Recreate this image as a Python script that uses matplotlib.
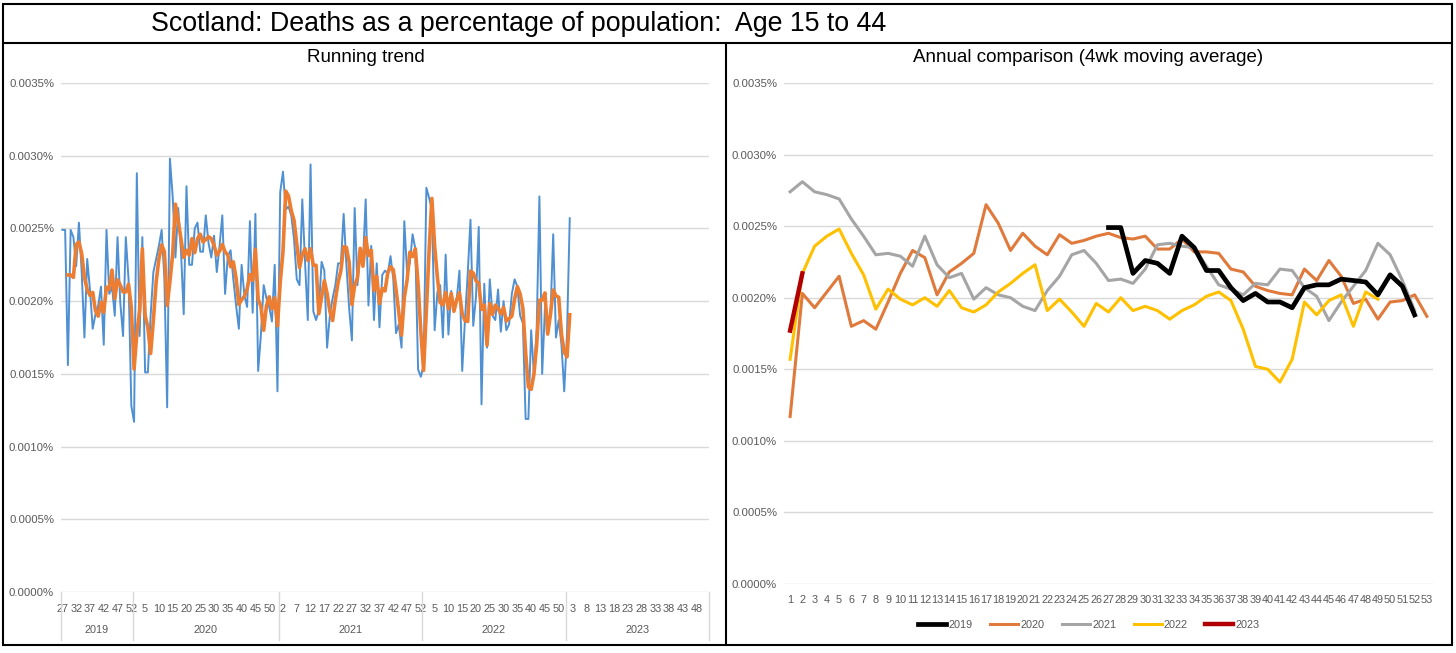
import numpy as np
import pandas as pd
import matplotlib
matplotlib.use("Agg")
import matplotlib.pyplot as plt
import matplotlib.transforms as mtransforms
from matplotlib.lines import Line2D
from matplotlib.patches import Rectangle
from matplotlib.ticker import FuncFormatter, MultipleLocator

plt.rcParams["font.family"] = ["Liberation Sans Narrow", "Liberation Sans", "DejaVu Sans"]

# category axis of the running trend: year groups and their week numbers
years = ["2019", "2020", "2021", "2022", "2023"]
first_week = [27, 1, 1, 1, 1]
last_week = [52, 53, 52, 52, 52]

# weekly deaths as % of population (age 15-44)
weekly_2019 = [0.00249, 0.00249, 0.00156, 0.00249, 0.00244, 0.00224, 0.00254, 0.00220, 0.00175, 0.00229,
               0.00208, 0.00181, 0.00191, 0.00197, 0.00210, 0.00170, 0.00249, 0.00205, 0.00210, 0.00190,
               0.00244, 0.00199, 0.00176, 0.00244, 0.00215, 0.00128]
weekly_2020 = [0.00117, 0.00288, 0.00176, 0.00244, 0.00151, 0.00151, 0.00190, 0.00220, 0.00229, 0.00238,
               0.00249, 0.00215, 0.00127, 0.00298, 0.00272, 0.00230, 0.00264, 0.00235, 0.00191, 0.00279,
               0.00225, 0.00225, 0.00250, 0.00254, 0.00234, 0.00234, 0.00259, 0.00240, 0.00230, 0.00245,
               0.00220, 0.00238, 0.00259, 0.00205, 0.00231, 0.00235, 0.00215, 0.00197, 0.00181, 0.00225,
               0.00204, 0.00196, 0.00255, 0.00192, 0.00260, 0.00152, 0.00177, 0.00211, 0.00202, 0.00196,
               0.00186, 0.00225, 0.00138]
weekly_2021 = [0.00275, 0.00289, 0.00263, 0.00265, 0.00259, 0.00243, 0.00215, 0.00211, 0.00270, 0.00227,
               0.00187, 0.00294, 0.00193, 0.00187, 0.00194, 0.00227, 0.00221, 0.00168, 0.00190, 0.00202,
               0.00211, 0.00226, 0.00226, 0.00260, 0.00225, 0.00195, 0.00173, 0.00264, 0.00211, 0.00234,
               0.00227, 0.00270, 0.00197, 0.00238, 0.00187, 0.00226, 0.00182, 0.00218, 0.00221, 0.00219,
               0.00231, 0.00215, 0.00178, 0.00184, 0.00168, 0.00255, 0.00220, 0.00226, 0.00246, 0.00236,
               0.00153, 0.00148]
weekly_2022 = [0.00156, 0.00278, 0.00271, 0.00263, 0.00180, 0.00206, 0.00211, 0.00175, 0.00232, 0.00177,
               0.00207, 0.00195, 0.00201, 0.00221, 0.00152, 0.00187, 0.00219, 0.00256, 0.00183, 0.00203,
               0.00251, 0.00129, 0.00212, 0.00168, 0.00215, 0.00190, 0.00187, 0.00208, 0.00179, 0.00200,
               0.00180, 0.00184, 0.00205, 0.00215, 0.00210, 0.00190, 0.00185, 0.00119, 0.00119, 0.00180,
               0.00150, 0.00180, 0.00272, 0.00150, 0.00195, 0.00187, 0.00190, 0.00246, 0.00175, 0.00187,
               0.00170, 0.00138]
weekly_2023 = [0.00177, 0.00257]

# annual comparison: 4 week moving average by week of year
ma_2019 = [0.00249, 0.00249, 0.00217, 0.00226, 0.00224, 0.00217, 0.00243, 0.00235, 0.00219, 0.00219,
           0.00207, 0.00198, 0.00203, 0.00197, 0.00197, 0.00193, 0.00207, 0.00209, 0.00209, 0.00213,
           0.00212, 0.00211, 0.00202, 0.00216, 0.00208, 0.00188]
ma_2020 = [0.00117, 0.00203, 0.00193, 0.00204, 0.00215, 0.00180, 0.00184, 0.00178, 0.00197, 0.00217,
           0.00233, 0.00228, 0.00202, 0.00218, 0.00224, 0.00231, 0.00265, 0.00252, 0.00233, 0.00245,
           0.00236, 0.00230, 0.00244, 0.00238, 0.00240, 0.00243, 0.00245, 0.00242, 0.00241, 0.00243,
           0.00234, 0.00234, 0.00241, 0.00232, 0.00232, 0.00231, 0.00220, 0.00218, 0.00208, 0.00205,
           0.00203, 0.00202, 0.00220, 0.00212, 0.00226, 0.00215, 0.00196, 0.00199, 0.00185, 0.00197,
           0.00198, 0.00202, 0.00187]
ma_2021 = [0.00274, 0.00281, 0.00274, 0.00272, 0.00269, 0.00255, 0.00243, 0.00230, 0.00231, 0.00229,
           0.00222, 0.00243, 0.00223, 0.00214, 0.00217, 0.00199, 0.00207, 0.00202, 0.00200, 0.00194,
           0.00191, 0.00205, 0.00215, 0.00230, 0.00233, 0.00224, 0.00212, 0.00213, 0.00210, 0.00220,
           0.00237, 0.00238, 0.00236, 0.00235, 0.00222, 0.00209, 0.00206, 0.00202, 0.00210, 0.00209,
           0.00220, 0.00219, 0.00207, 0.00201, 0.00184, 0.00197, 0.00208, 0.00219, 0.00238, 0.00230,
           0.00212, 0.00191]
ma_2022 = [0.00157, 0.00217, 0.00236, 0.00243, 0.00248, 0.00231, 0.00216, 0.00192, 0.00206, 0.00199,
           0.00195, 0.00200, 0.00194, 0.00205, 0.00193, 0.00190, 0.00195, 0.00204, 0.00210, 0.00217,
           0.00223, 0.00191, 0.00199, 0.00190, 0.00180, 0.00196, 0.00190, 0.00200, 0.00191, 0.00194,
           0.00191, 0.00185, 0.00191, 0.00195, 0.00201, 0.00204, 0.00198, 0.00178, 0.00152, 0.00150,
           0.00141, 0.00157, 0.00197, 0.00188, 0.00198, 0.00202, 0.00180, 0.00204, 0.00199]
ma_2023 = [0.00177, 0.00217]

W, H = 1456, 653


def fx(px):
    return px / W


def fy(py):
    return 1 - py / H


def pct(v, pos):
    return f"{v:.4f}%"


def style_axes(ax):
    ax.set_ylim(0, 0.0035)
    ax.yaxis.set_major_locator(MultipleLocator(0.0005))
    ax.yaxis.set_major_formatter(FuncFormatter(pct))
    ax.grid(axis="y", color="#D9D9D9", lw=1)
    ax.set_axisbelow(True)
    for s in ax.spines.values():
        s.set_visible(False)
    ax.tick_params(axis="y", length=0, pad=5, labelsize=8.2, labelcolor="#595959")


fig = plt.figure(figsize=(W / 100, H / 100), dpi=100)

# frame lines like the spreadsheet layout
fig.add_artist(Rectangle((fx(3), fy(645)), fx(1452) - fx(3), fy(4) - fy(645),
                         transform=fig.transFigure, fill=False, ec="black", lw=1.5))
fig.add_artist(Line2D([fx(3), fx(1452)], [fy(43), fy(43)], transform=fig.transFigure, color="black", lw=1.5))
fig.add_artist(Line2D([fx(726), fx(726)], [fy(43), fy(645)], transform=fig.transFigure, color="black", lw=1.5))

fig.text(fx(519), fy(24), "Scotland: Deaths as a percentage of population:  Age 15 to 44",
         ha="center", va="center", fontsize=19.3)
fig.text(fx(366), fy(57), "Running trend", ha="center", va="center", fontsize=13.5)
fig.text(fx(1088), fy(57), "Annual comparison (4wk moving average)", ha="center", va="center", fontsize=13.5)

# ---- left: running trend ----
ax1 = fig.add_axes([fx(61), fy(592), fx(709) - fx(61), fy(83) - fy(592)])
style_axes(ax1)

weeks = []
group_sizes = []
for w0, w1 in zip(first_week, last_week):
    weeks += list(range(w0, w1 + 1))
    group_sizes.append(w1 - w0 + 1)
n_cat = len(weeks)

weekly = weekly_2019 + weekly_2020 + weekly_2021 + weekly_2022 + weekly_2023
xs = np.arange(len(weekly))
# Excel-style moving average trendline (period 3) over the weekly series
trend = pd.Series(weekly).rolling(3).mean()

ax1.plot(xs, weekly, color="#4F90D2", lw=1.4, zorder=2)
ax1.plot(xs, trend, color="#ED7D31", lw=2.6, zorder=3)
ax1.set_xlim(-0.5, n_cat - 0.5)

tick_idx = np.arange(0, n_cat, 5)
ax1.set_xticks(tick_idx)
ax1.set_xticklabels([str(weeks[i]) for i in tick_idx])
ax1.tick_params(axis="x", length=0, pad=9, labelsize=7.8, labelcolor="#595959")

trans = mtransforms.blended_transform_factory(ax1.transData, ax1.transAxes)
edges = np.concatenate([[0], np.cumsum(group_sizes)]) - 0.5
for e in edges:
    ax1.plot([e, e], [0, -0.094], transform=trans, color="#D9D9D9", lw=1, clip_on=False)
for yr, a, b in zip(years, edges[:-1], edges[1:]):
    ax1.text((a + b) / 2, -0.074, yr, transform=trans, ha="center", va="center",
             fontsize=7.8, color="#595959")

# ---- right: annual comparison ----
ax2 = fig.add_axes([fx(784), fy(584), fx(1433) - fx(784), fy(83) - fy(584)])
style_axes(ax2)

ax2.plot(range(1, len(ma_2020) + 1), ma_2020, color="#E07A3C", lw=2.2, label="2020", zorder=2)
ax2.plot(range(1, len(ma_2021) + 1), ma_2021, color="#A5A5A5", lw=2.2, label="2021", zorder=2)
ax2.plot(range(1, len(ma_2022) + 1), ma_2022, color="#FFC000", lw=2.2, label="2022", zorder=2)
ax2.plot(range(27, 27 + len(ma_2019)), ma_2019, color="black", lw=3.4, label="2019", zorder=3)
ax2.plot(range(1, len(ma_2023) + 1), ma_2023, color="#B00000", lw=3.2, label="2023", zorder=4)
ax2.set_xlim(0.5, 53.5)
ax2.set_xticks(np.arange(1, 54))
ax2.tick_params(axis="x", length=0, pad=8, labelsize=7.8, labelcolor="#595959")

handles, labels = ax2.get_legend_handles_labels()
order = [labels.index(y) for y in years]
fig.legend([handles[i] for i in order], [labels[i] for i in order], loc="center",
           bbox_to_anchor=(fx(1089), fy(625)), ncol=5, frameon=False, fontsize=7.8,
           handlelength=2.6, columnspacing=1.6, handletextpad=0.2, labelcolor="#595959")

fig.savefig("out.png", dpi=100)
